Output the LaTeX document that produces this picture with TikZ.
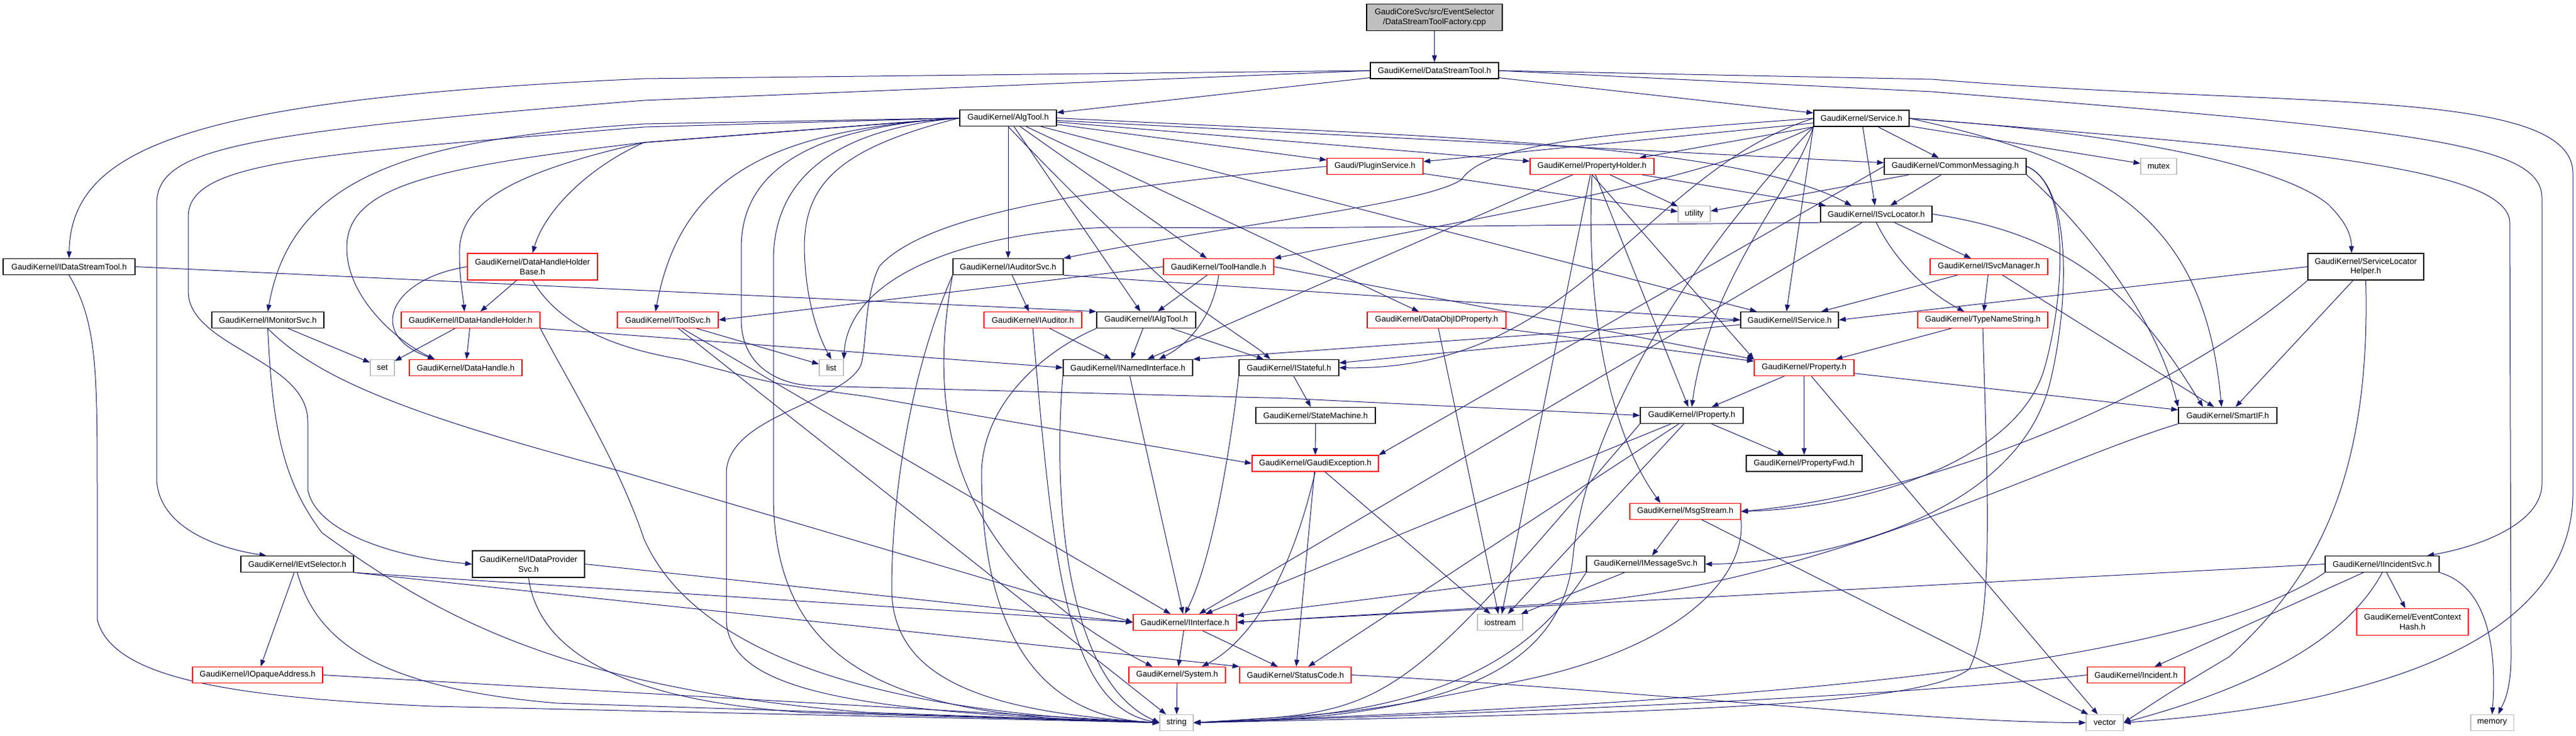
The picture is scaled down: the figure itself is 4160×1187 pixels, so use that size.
\documentclass[tikz,border=0pt]{standalone}
\usepackage{fontspec}
\setmainfont{Liberation Sans}
\usetikzlibrary{arrows.meta}
\definecolor{edgeblue}{HTML}{191970}
\definecolor{sysgray}{HTML}{BFBFBF}
\pgfdeclarelayer{paper}
\pgfdeclarelayer{wires}
\pgfsetlayers{paper,wires,main}
\newcommand{\hdrfont}{\fontsize{13.2}{15.7}\selectfont}
\tikzset{%
	hdr/.style={
		rectangle,
		draw=black,
		line width=1.4pt,
		fill=white,
		inner sep=0pt,
		minimum height=26pt,
		font=\hdrfont
	},
	hdrred/.style={hdr, draw=red, line width=1.2pt},
	hdrsys/.style={hdr, draw=sysgray, line width=1.1pt},
	twoline/.style={align=center, minimum height=43pt},
	incl/.style={draw=edgeblue, line width=1pt, -{Triangle[length=11pt,width=8pt]}},
}

\begin{document}
\begin{tikzpicture}[x=1pt,y=-1pt]
	\useasboundingbox (0,0) rectangle (4160,1187);
	\begin{pgfonlayer}{paper}
		\fill[white] (0,0) rectangle (4160,1187);
	\end{pgfonlayer}

	\node[hdr, fill=sysgray, twoline, minimum width=219] (root) at (2316.5,28) {GaudiCoreSvc/src/EventSelector\\/DataStreamToolFactory.cpp};
	\node[hdr, minimum width=207] (dst) at (2316.5,114) {GaudiKernel/DataStreamTool.h};

	\node[hdr, minimum width=156] (algtool) at (1628,190.5) {GaudiKernel/AlgTool.h};
	\node[hdr, minimum width=154] (service) at (3006,191) {GaudiKernel/Service.h};

	\node[hdrred, minimum width=155] (pluginsvc) at (2220.5,268.5) {Gaudi/PluginService.h};
	\node[hdrred, minimum width=200] (propholder) at (2571,268.5) {GaudiKernel/PropertyHolder.h};
	\node[hdr, minimum width=229] (commonmsg) at (3157.5,268.5) {GaudiKernel/CommonMessaging.h};
	\node[hdrsys, minimum width=58] (mutex) at (3486,268.5) {mutex};

	\node[hdrsys, minimum width=52] (utility) at (2736,345.5) {utility};
	\node[hdr, minimum width=180] (isvcloc) at (3030,345.5) {GaudiKernel/ISvcLocator.h};

	\node[hdr, minimum width=213] (idst) at (111.5,430.5) {GaudiKernel/IDataStreamTool.h};
	\node[hdrred, twoline, minimum width=210] (dhhbase) at (860,430.5) {GaudiKernel/DataHandleHolder\\Base.h};
	\node[hdr, minimum width=178] (iauditorsvc) at (1628,430.5) {GaudiKernel/IAuditorSvc.h};
	\node[hdrred, minimum width=178] (toolhandle) at (1968,430.5) {GaudiKernel/ToolHandle.h};
	\node[hdrred, minimum width=190] (isvcmgr) at (3212,430.5) {GaudiKernel/ISvcManager.h};
	\node[hdr, twoline, minimum width=187] (slhelper) at (3820.5,430.5) {GaudiKernel/ServiceLocator\\Helper.h};

	\node[hdr, minimum width=181] (imonitor) at (432.5,516.5) {GaudiKernel/IMonitorSvc.h};
	\node[hdrred, minimum width=224] (idhh) at (760,516.5) {GaudiKernel/IDataHandleHolder.h};
	\node[hdrred, minimum width=163] (itoolsvc) at (1078.5,516.5) {GaudiKernel/IToolSvc.h};
	\node[hdrred, minimum width=158] (iauditor) at (1668,516.5) {GaudiKernel/IAuditor.h};
	\node[hdr, minimum width=160] (ialgtool) at (1851,516.5) {GaudiKernel/IAlgTool.h};
	\node[hdrred, minimum width=224] (dataobjid) at (2320,516.5) {GaudiKernel/DataObjIDProperty.h};
	\node[hdr, minimum width=158] (iservice) at (2890,516.5) {GaudiKernel/IService.h};
	\node[hdrred, minimum width=210] (tnstring) at (3202,516.5) {GaudiKernel/TypeNameString.h};

	\node[hdrsys, minimum width=39] (setinc) at (617.5,593.5) {set};
	\node[hdrred, minimum width=182] (dhandle) at (752,593.5) {GaudiKernel/DataHandle.h};
	\node[hdrsys, minimum width=39] (listinc) at (1342.5,593.5) {list};
	\node[hdr, minimum width=209] (inamed) at (1821.5,593.5) {GaudiKernel/INamedInterface.h};
	\node[hdr, minimum width=161] (istateful) at (2081.5,593.5) {GaudiKernel/IStateful.h};
	\node[hdrred, minimum width=161] (property) at (2913.5,593.5) {GaudiKernel/Property.h};

	\node[hdr, minimum width=193] (statemachine) at (2124.5,670.5) {GaudiKernel/StateMachine.h};
	\node[hdr, minimum width=166] (iproperty) at (2732,670.5) {GaudiKernel/IProperty.h};
	\node[hdr, minimum width=159] (smartif) at (3597.5,670.5) {GaudiKernel/SmartIF.h};

	\node[hdrred, minimum width=204] (gaudiexc) at (2124,748) {GaudiKernel/GaudiException.h};
	\node[hdr, minimum width=187] (propfwd) at (2913.5,748) {GaudiKernel/PropertyFwd.h};

	\node[hdrred, minimum width=179] (msgstream) at (2721.5,825.5) {GaudiKernel/MsgStream.h};

	\node[hdr, minimum width=182] (ievtsel) at (480,910.5) {GaudiKernel/IEvtSelector.h};
	\node[hdr, twoline, minimum width=181] (idataprov) at (853.5,910.5) {GaudiKernel/IDataProvider\\Svc.h};
	\node[hdr, minimum width=191] (imessagesvc) at (2657.5,910.5) {GaudiKernel/IMessageSvc.h};
	\node[hdr, minimum width=184] (iincident) at (3847,910.5) {GaudiKernel/IIncidentSvc.h};

	\node[hdrred, minimum width=167] (iinterface) at (1913.5,1004.5) {GaudiKernel/IInterface.h};
	\node[hdrsys, minimum width=73] (iostream) at (2422.5,1004.5) {iostream};
	\node[hdrred, twoline, minimum width=180] (evctxhash) at (3896,1004) {GaudiKernel/EventContext\\Hash.h};

	\node[hdrred, minimum width=210] (opaque) at (416,1089.5) {GaudiKernel/IOpaqueAddress.h};
	\node[hdrred, minimum width=156] (system) at (1901,1089.5) {GaudiKernel/System.h};
	\node[hdrred, minimum width=180] (statuscode) at (2092,1089.5) {GaudiKernel/StatusCode.h};
	\node[hdrred, minimum width=157] (incident) at (3449.5,1089.5) {GaudiKernel/Incident.h};

	\node[hdrsys, minimum width=54] (strinc) at (1900,1166.5) {string};
	\node[hdrsys, minimum width=60] (vecinc) at (3399,1166.5) {vector};
	\node[hdrsys, minimum width=69] (meminc) at (4024.5,1166.5) {memory};

	\begin{pgfonlayer}{wires}
	% top of the graph
	\draw[incl] (root) -- (dst);
	\draw[incl] (dst) -- (algtool);
	\draw[incl] (dst) -- (service);
	\draw[incl] (dst.west) -- (1040,127) .. controls (300,160) and (115,240) .. (idst.north);
	\draw[incl] (dst.west) -- (1040,162) .. controls (380,215) and (253,240) .. (253,330) -- (253,770) .. controls (253,850) and (350,885) .. ([xshift=-50pt]ievtsel.north);
	\draw[incl] (dst.east) -- (3120,148) .. controls (3900,210) and (4105,230) .. (4105,320) -- (4105,780) .. controls (4105,850) and (3990,885) .. ([xshift=-20pt]iincident.north east);
	\draw[incl] (dst.east) -- (3120,128) .. controls (3700,175) and (4155,140) .. (4155,280) -- (4155,800) .. controls (4150,1050) and (3800,1140) .. (vecinc.east);

	% AlgTool.h
	\draw[incl] (algtool) -- (pluginsvc);
	\draw[incl] (algtool) -- (propholder);
	\draw[incl] (algtool) -- (commonmsg);
	\draw[incl] (algtool.east) .. controls (2300,220) and (2800,230) .. ([xshift=-40pt]isvcloc.north);
	\draw[incl] (algtool.west) -- (1040,200) .. controls (650,225) and (470,290) .. (imonitor.north);
	\draw[incl] (algtool.west) -- (1040,205) .. controls (500,250) and (304,260) .. (304,350) -- (304,470) .. controls (304,560) and (497,580) .. (497,680) -- (497,790) .. controls (510,860) and (640,900) .. (idataprov.west);
	\draw[incl] (algtool.west) -- (1040,230) .. controls (820,280) and (740,330) .. (742,410) .. controls (742,450) and (748,480) .. ([xshift=-10pt]idhh.north);
	\draw[incl] (algtool.west) -- (1040,230) .. controls (950,270) and (880,340) .. (dhhbase.north);
	\draw[incl] (algtool.west) -- (1040,230) .. controls (700,270) and (560,300) .. (560,400) .. controls (560,480) and (640,550) .. ([xshift=-50pt]dhandle.north);
	\draw[incl] (algtool) -- (iauditorsvc);
	\draw[incl] (algtool) -- (ialgtool);
	\draw[incl] (algtool) -- (toolhandle);
	\draw[incl] (algtool.south) .. controls (1700,280) and (1820,400) .. (1900,470) .. controls (1980,530) and (2030,560) .. ([xshift=-30pt]istateful.north);
	\draw[incl] (algtool.west) .. controls (1250,210) and (1100,280) .. ([xshift=-20pt]itoolsvc.north);
	\draw[incl] (algtool.west) .. controls (1350,240) and (1299,300) .. (1299,400) .. controls (1300,480) and (1320,540) .. (listinc.north);
	\draw[incl] (algtool.west) .. controls (1300,205) and (1197,280) .. (1197,400) -- (1197,520) .. controls (1200,600) and (1270,623) .. (1320,623) -- (2080,643) -- (iproperty.west);
	\draw[incl] (algtool) -- (dataobjid);
	\draw[incl] (algtool) -- (iservice);
	\draw[incl] (algtool.west) .. controls (1330,210) and (1249,300) .. (1249,420) -- (1249,800) .. controls (1249,1110) and (1500,1160) .. (strinc.west);

	% Service.h
	\draw[incl] (service) -- (pluginsvc);
	\draw[incl] (service) -- (propholder);
	\draw[incl] (service) -- (commonmsg);
	\draw[incl] (service) -- (mutex);
	\draw[incl] (service) -- (isvcloc);
	\draw[incl] (service.south west) -- ([xshift=-5pt]iservice.north);
	\draw[incl] (service.west) .. controls (2600,215) and (2400,230) .. (2360,290) .. controls (2300,330) and (2000,360) .. (iauditorsvc.north east);
	\draw[incl] (service.south west) .. controls (2750,290) and (2500,330) .. (toolhandle.north east);
	\draw[incl] (service.west) .. controls (2650,280) and (2550,600) .. (istateful.east);
	\draw[incl] (service.south west) .. controls (2900,300) and (2760,450) .. (iproperty.north);
	\draw[incl] (service.east) .. controls (3500,220) and (3700,280) .. (3760,330) .. controls (3790,360) and (3797,380) .. ([xshift=-23pt]slhelper.north);
	\draw[incl] (service.east) .. controls (3400,260) and (3560,350) .. ([xshift=-10pt]smartif.north);
	\draw[incl] (service.east) .. controls (3700,240) and (4053,270) .. (4053,360) -- (4055,1060) .. controls (4055,1120) and (4040,1140) .. ([xshift=10pt]meminc.north);
	\draw[incl] (service.south west) .. controls (2700,450) and (2560,700) .. (2540,900) .. controls (2520,1100) and (2300,1160) .. (strinc.east);

	% second row
	\draw[incl] (pluginsvc) -- (utility);
	\draw[incl] (pluginsvc.west) .. controls (1800,300) and (1500,340) .. (1420,430) .. controls (1395,480) and (1400,560) .. (1390,590) .. controls (1360,650) and (1180,670) .. (1173,760) -- (1173,1000) .. controls (1175,1120) and (1400,1150) .. (strinc.west);
	\draw[incl] (propholder) -- (utility);
	\draw[incl] (propholder) -- (isvcloc);
	\draw[incl] (propholder.south) -- (property.north west);
	\draw[incl] (propholder) -- (iproperty);
	\draw[incl] (propholder) -- (inamed);
	\draw[incl] (propholder.south) .. controls (2560,500) and (2600,700) .. ([xshift=-40pt]msgstream.north);
	\draw[incl] (propholder) -- (iostream);
	\draw[incl] (commonmsg) -- (utility);
	\draw[incl] (commonmsg) -- (isvcloc);
	\draw[incl] (commonmsg.south east) .. controls (3350,350) and (3480,500) .. (smartif.north west);
	\draw[incl] (commonmsg.east) .. controls (3350,300) and (3330,500) .. (3300,600) .. controls (3250,750) and (3000,820) .. (msgstream.east);
	\draw[incl] (commonmsg.east) .. controls (3350,300) and (3340,500) .. (3310,620) .. controls (3250,850) and (2900,910) .. (imessagesvc.east);
	\draw[incl] (commonmsg.west) -- (gaudiexc.north east);
	\draw[incl] (isvcloc.south west) -- (2080,368) -- (1790,367) .. controls (1550,375) and (1370,450) .. (listinc.north east);
	\draw[incl] (isvcloc) -- (isvcmgr);
	\draw[incl] (isvcloc.south) .. controls (3060,420) and (3110,470) .. ([xshift=-30pt]tnstring.north);
	\draw[incl] (isvcloc.east) .. controls (3350,380) and (3450,480) .. ([xshift=-40pt]smartif.north);
	\draw[incl] (isvcloc) -- (iinterface);

	% left part
	\draw[incl] (idst.east) -- (ialgtool.north west);
	\draw[incl] (idst.south) .. controls (157,520) and (157,600) .. (157,800) -- (157,1000) .. controls (180,1090) and (350,1125) .. (700,1140) -- (strinc.west);
	\draw[incl] (dhhbase) -- (idhh);
	\draw[incl] (dhhbase.west) .. controls (630,450) and (590,540) .. ([xshift=-50pt]dhandle.north);
	\draw[incl] (dhhbase.south) .. controls (900,520) and (980,560) .. (1100,580) .. controls (1250,620) .. (1400,640) -- (gaudiexc.west);
	\draw[incl] (imonitor) -- (setinc);
	\draw[incl] (imonitor.south) .. controls (520,620) and (700,680) .. (1000,760) -- (iinterface.west);
	\draw[incl] (imonitor.south) .. controls (440,700) and (460,780) .. (520,860) .. controls (700,990) and (900,1110) .. (1400,1150) -- (strinc.west);
	\draw[incl] (idhh) -- (setinc);
	\draw[incl] (idhh) -- (dhandle);
	\draw[incl] (idhh.south east) -- (inamed.west);
	\draw[incl] (idhh.south east) .. controls (920,620) and (1000,750) .. (1040,870) .. controls (1120,1050) and (1400,1150) .. (strinc.west);

	% middle part
	\draw[incl] (iauditorsvc) -- (iauditor);
	\draw[incl] (iauditorsvc.south east) -- (iservice.west);
	\draw[incl] (iauditorsvc.south west) .. controls (1470,600) and (1440,800) .. (1440,950) .. controls (1440,1100) and (1600,1150) .. (strinc.west);
	\draw[incl] (iauditorsvc.south west) .. controls (1500,650) and (1520,900) .. ([xshift=-40pt]system.north);
	\draw[incl] (toolhandle.west) -- (itoolsvc.east);
	\draw[incl] (toolhandle) -- (ialgtool);
	\draw[incl] (toolhandle.south) .. controls (1960,500) and (1930,550) .. ([xshift=50pt]inamed.north);
	\draw[incl] (toolhandle.east) -- (property.north west);
	\draw[incl] (itoolsvc) -- (listinc);
	\draw[incl] (itoolsvc) -- (iinterface);
	\draw[incl] (itoolsvc) -- (strinc);
	\draw[incl] (iauditor) -- (inamed);
	\draw[incl] (iauditor.south) .. controls (1700,900) and (1720,1140) .. (strinc.west);
	\draw[incl] (ialgtool) -- (inamed);
	\draw[incl] (ialgtool) -- (istateful);
	\draw[incl] (ialgtool.south west) .. controls (1700,560) and (1590,640) .. (1585,760) .. controls (1585,1050) and (1700,1160) .. (strinc.west);
	\draw[incl] (dataobjid) -- (property);
	\draw[incl] (dataobjid) -- (iostream);
	\draw[incl] (iservice) -- (istateful);
	\draw[incl] (iservice.west) -- (inamed.north east);
	\draw[incl] (inamed) -- (iinterface);
	\draw[incl] (inamed.south west) .. controls (1700,800) and (1720,1100) .. (strinc.west);
	\draw[incl] (istateful) -- (statemachine);
	\draw[incl] (istateful.south west) .. controls (1990,700) and (1960,900) .. (iinterface.north);
	\draw[incl] (statemachine) -- (gaudiexc);

	% Property.h and friends
	\draw[incl] (property) -- (iproperty);
	\draw[incl] (property) -- (propfwd);
	\draw[incl] (property) -- (smartif);
	\draw[incl] (property) -- (vecinc);
	\draw[incl] (iproperty) -- (propfwd);
	\draw[incl] (iproperty) -- (iinterface);
	\draw[incl] (iproperty) -- (iostream);
	\draw[incl] (iproperty) -- (statuscode);
	\draw[incl] (iproperty.south west) .. controls (2250,1150) .. (strinc.east);
	\draw[incl] (gaudiexc.south) .. controls (2080,950) and (2010,1040) .. ([xshift=40pt]system.north);
	\draw[incl] (gaudiexc) -- (statuscode);
	\draw[incl] (gaudiexc) -- (iostream);
	\draw[incl] (msgstream) -- (imessagesvc);
	\draw[incl] (msgstream.south east) .. controls (2820,940) and (2700,1050) .. (2450,1100) .. controls (2200,1150) .. (strinc.east);
	\draw[incl] (msgstream) -- (vecinc);
	\draw[incl] (imessagesvc) -- (iinterface);
	\draw[incl] (imessagesvc) -- (iostream);
	\draw[incl] (imessagesvc.south west) .. controls (2450,1100) and (2250,1160) .. (strinc.east);

	% right part
	\draw[incl] (isvcmgr) -- (iservice);
	\draw[incl] (isvcmgr) -- (tnstring);
	\draw[incl] (isvcmgr) -- (smartif);
	\draw[incl] (tnstring) -- (property);
	\draw[incl] (tnstring.south) .. controls (3210,800) and (3220,1000) .. (3180,1080) .. controls (3100,1140) and (2700,1150) .. (strinc.east);
	\draw[incl] (slhelper.west) -- (iservice.east);
	\draw[incl] (slhelper) -- (smartif);
	\draw[incl] (slhelper.south west) .. controls (3500,650) and (3100,800) .. (msgstream.east);
	\draw[incl] (slhelper.south) .. controls (3830,800) and (3720,950) .. (3600,1060) .. controls (3500,1120) .. (vecinc.east);
	\draw[incl] (smartif.south west) .. controls (3300,750) and (2900,960) .. (2500,975) -- (iinterface.east);

	% bottom rows
	\draw[incl] (ievtsel) -- (opaque);
	\draw[incl] (ievtsel.south east) -- (iinterface.west);
	\draw[incl] (ievtsel.south east) -- (statuscode.north west);
	\draw[incl] (ievtsel.south) .. controls (510,1030) and (600,1110) .. (900,1135) -- (strinc.west);
	\draw[incl] (idataprov.east) -- (iinterface.west);
	\draw[incl] (idataprov.south) .. controls (870,1050) and (1000,1130) .. (1300,1150) -- (strinc.west);
	\draw[incl] (opaque.east) -- (strinc.west);
	\draw[incl] (iinterface) -- (system);
	\draw[incl] (iinterface) -- (statuscode);
	\draw[incl] (system) -- (strinc);
	\draw[incl] (statuscode.east) .. controls (2600,1110) and (3100,1166) .. (vecinc.west);
	\draw[incl] (iincident) -- (incident);
	\draw[incl] (iincident) -- (evctxhash);
	\draw[incl] (iincident.west) -- (iinterface.east);
	\draw[incl] (iincident.south east) .. controls (4030,950) and (4030,1080) .. (meminc.north);
	\draw[incl] (iincident.south) .. controls (3780,1050) and (3600,1120) .. (vecinc.east);
	\draw[incl] (iincident.south west) .. controls (3500,1100) and (2600,1140) .. (strinc.east);
	\draw[incl] (incident.west) .. controls (3100,1120) and (2600,1145) .. (strinc.east);
	\end{pgfonlayer}
\end{tikzpicture}
\end{document}
